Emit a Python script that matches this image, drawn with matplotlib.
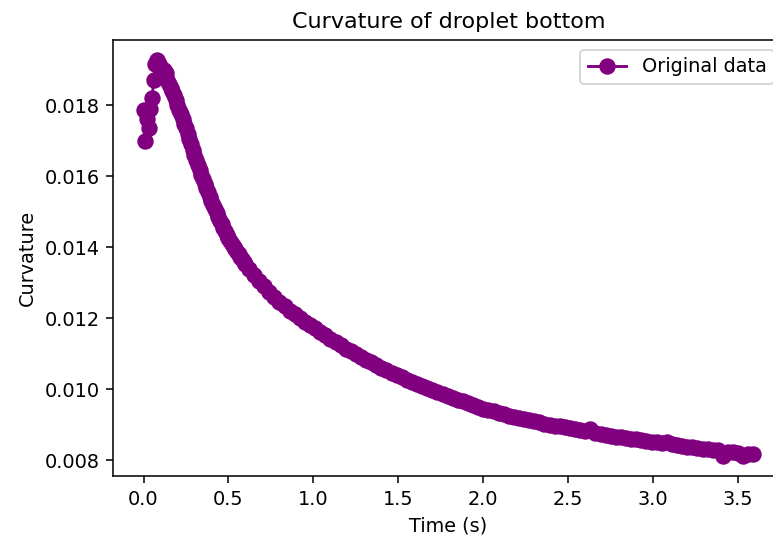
import numpy as np
import matplotlib
matplotlib.use('Agg')
import matplotlib.pyplot as plt

# first 0.6 s of the recording, sampled every 0.01 s
t_early = np.round(np.arange(0.0, 0.605, 0.01), 2)
k_early = [0.01788, 0.01700, 0.01760, 0.01735, 0.01790, 0.01820, 0.01870,
           0.01915, 0.01928, 0.01915, 0.01905, 0.01895, 0.01900, 0.01890,
           0.01870, 0.01860, 0.01850, 0.01840, 0.01828, 0.01815, 0.01800,
           0.01788, 0.01775, 0.01762, 0.01748, 0.01735, 0.01720, 0.01705,
           0.01690, 0.01675, 0.01660, 0.01646, 0.01632, 0.01619, 0.01605,
           0.01592, 0.01579, 0.01567, 0.01555, 0.01542, 0.01530, 0.01519,
           0.01508, 0.01497, 0.01486, 0.01475, 0.01465, 0.01455, 0.01445,
           0.01435, 0.01425, 0.01417, 0.01410, 0.01402, 0.01395, 0.01388,
           0.01380, 0.01373, 0.01366, 0.01359, 0.01352]

# rest of the decay, every 0.03 s
t_late = np.round(np.arange(0.62, 3.595, 0.03), 2)
k_late = [0.01340, 0.01322, 0.01306,
          0.01290, 0.01275, 0.01260, 0.01246, 0.01234, 0.01222, 0.01212, 0.01201,
          0.01191, 0.01181, 0.01172, 0.01162, 0.01152, 0.01143, 0.01134, 0.01125,
          0.01115, 0.01107, 0.01099, 0.01091, 0.01083, 0.01078, 0.01068, 0.01061,
          0.01054, 0.01047, 0.01041, 0.01034, 0.01027, 0.01020, 0.01014, 0.01009,
          0.01003, 0.00998, 0.00993, 0.00987, 0.00982, 0.00976, 0.00971, 0.00966,
          0.00961, 0.00955, 0.00950, 0.00946, 0.00942, 0.00938, 0.00934, 0.00930,
          0.00926, 0.00922, 0.00919, 0.00916, 0.00913, 0.00910, 0.00907, 0.00904,
          0.00901, 0.00898, 0.00896, 0.00893, 0.00891, 0.00888, 0.00885, 0.00882,
          0.00888, 0.00877, 0.00875, 0.00872, 0.00870, 0.00867, 0.00865, 0.00863,
          0.00861, 0.00859, 0.00857, 0.00855, 0.00853, 0.00851, 0.00849, 0.00852,
          0.00845, 0.00843, 0.00841, 0.00839, 0.00837, 0.00835, 0.00833, 0.00832,
          0.00830, 0.00828, 0.00812, 0.00825, 0.00823, 0.00822, 0.00812, 0.00819,
          0.00818]

time = np.concatenate([t_early, t_late])
curv = np.array(k_early + k_late)

dpi = 139
fig = plt.figure(figsize=(773 / dpi, 537 / dpi), dpi=dpi)
ax = fig.add_axes([0.1462, 0.1136, 0.868, 0.8119])

ax.plot(time, curv, 'o-', color='purple', markersize=7.5, label='Original data')
ax.set_title('Curvature of droplet bottom', fontsize=11.5)
ax.set_xlabel('Time (s)')
ax.set_ylabel('Curvature')
ax.set_xticks([0.0, 0.5, 1.0, 1.5, 2.0, 2.5, 3.0, 3.5])
ax.legend(loc='upper right')

fig.savefig('out.png', dpi=dpi)
